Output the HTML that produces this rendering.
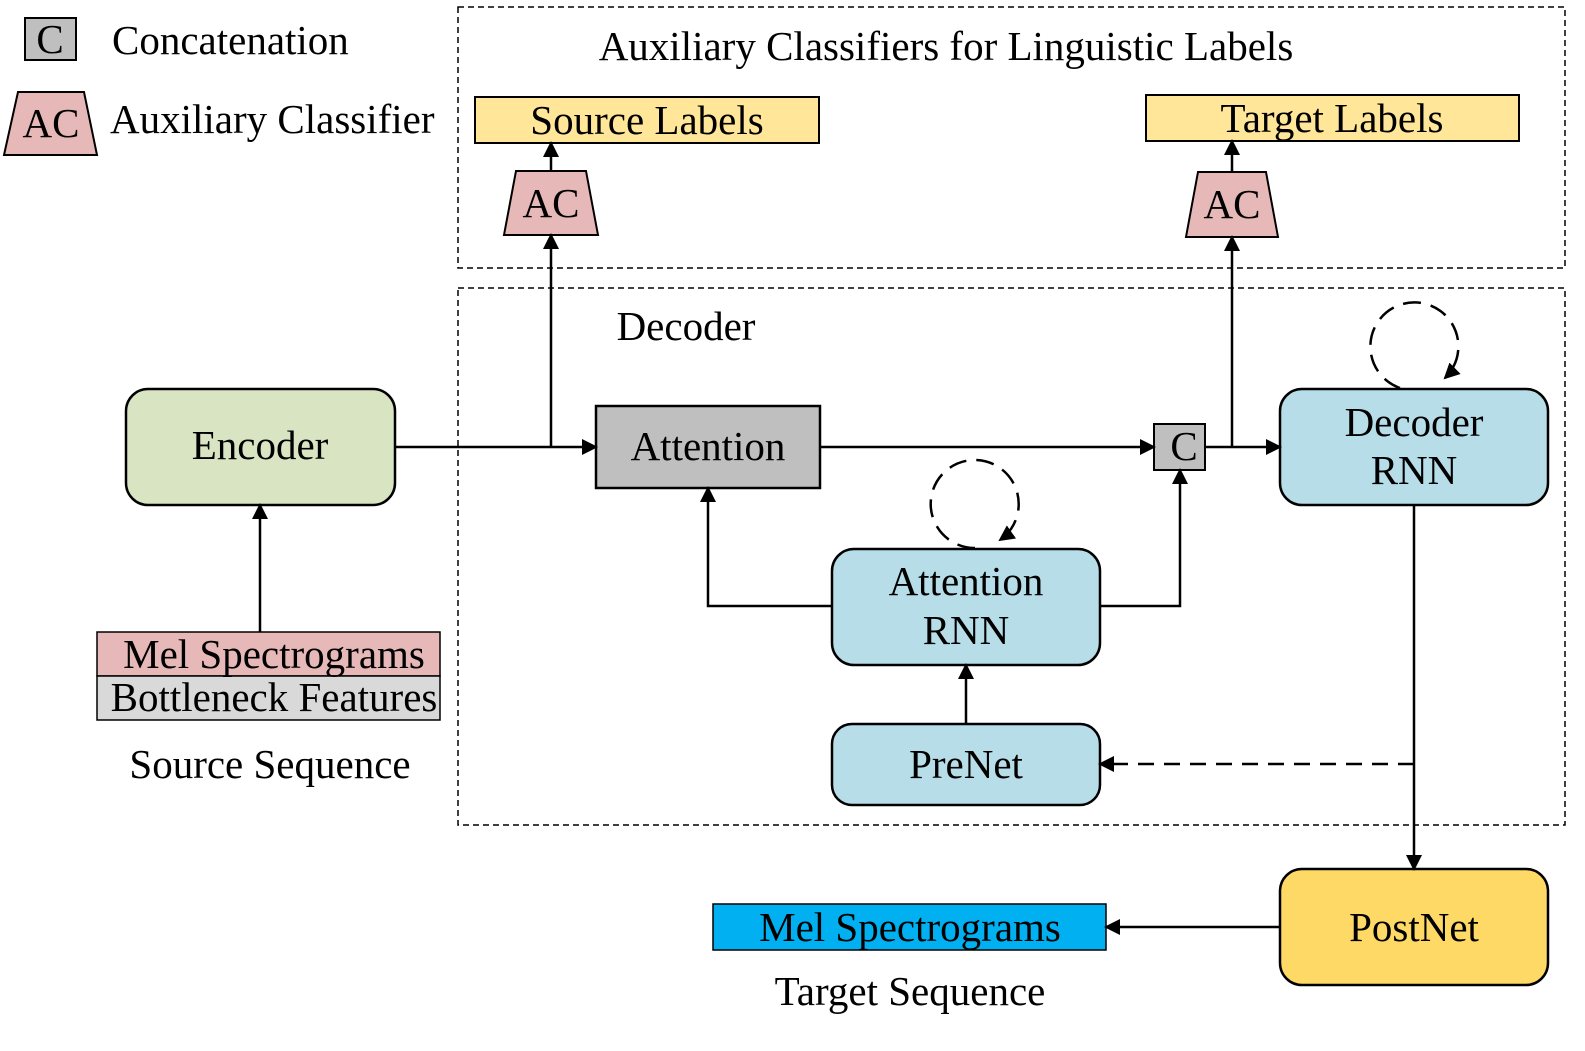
<!DOCTYPE html>
<html><head><meta charset="utf-8"><style>
html,body{margin:0;padding:0;background:#fff;}
svg text{font-family:"Liberation Serif",serif;font-size:41px;fill:#000;}
</style></head><body>
<svg width="1585" height="1046" viewBox="0 0 1585 1046" xmlns="http://www.w3.org/2000/svg">
<defs>
<marker id="b" markerWidth="16" markerHeight="16" refX="14" refY="8" orient="auto" markerUnits="userSpaceOnUse" viewBox="0 0 16 16">
<path d="M0,0 L16,8 L0,16 z" fill="#000"/></marker>
</defs>
<g stroke="#000" stroke-width="2" fill="none">
<rect x="458" y="7" width="1107" height="261" stroke-dasharray="6,4" stroke-width="1.5"/>
<rect x="458" y="288" width="1107" height="537" stroke-dasharray="6,4" stroke-width="1.5"/>
</g>
<rect x="25" y="18" width="51" height="42" fill="#bfbfbf" stroke="#000" stroke-width="2"/>
<text x="50" y="53" text-anchor="middle">C</text>
<text x="112" y="54">Concatenation</text>
<polygon points="4,155 97,155 84,92 18,92" fill="#e6b8b7" stroke="#000" stroke-width="2"/>
<text x="51" y="137" text-anchor="middle">AC</text>
<text x="110" y="133">Auxiliary Classifier</text>
<text x="946" y="60" text-anchor="middle">Auxiliary Classifiers for Linguistic Labels</text>
<text x="686" y="340" text-anchor="middle">Decoder</text>
<rect x="475" y="97" width="344" height="46" fill="#ffe699" stroke="#000" stroke-width="2"/>
<text x="647" y="134" text-anchor="middle">Source Labels</text>
<rect x="1146" y="95" width="373" height="46" fill="#ffe699" stroke="#000" stroke-width="2"/>
<text x="1332" y="132" text-anchor="middle">Target Labels</text>
<polygon points="504,235 598,235 586,171 516,171" fill="#e6b8b7" stroke="#000" stroke-width="2"/>
<text x="551" y="217" text-anchor="middle">AC</text>
<polygon points="1186,237 1278,237 1266,172 1198,172" fill="#e6b8b7" stroke="#000" stroke-width="2"/>
<text x="1232" y="218" text-anchor="middle">AC</text>
<rect x="126" y="389" width="269" height="116" rx="22" fill="#d9e5c2" stroke="#000" stroke-width="2.5"/>
<text x="260" y="459" text-anchor="middle">Encoder</text>
<rect x="596" y="406" width="224" height="82" fill="#bfbfbf" stroke="#000" stroke-width="2.5"/>
<text x="708" y="460" text-anchor="middle">Attention</text>
<rect x="1154" y="424" width="51" height="46" fill="#bfbfbf" stroke="#000" stroke-width="2"/>
<text x="1184" y="460" text-anchor="middle">C</text>
<rect x="1280" y="389" width="268" height="116" rx="22" fill="#b7dde8" stroke="#000" stroke-width="2.5"/>
<text x="1414" y="436" text-anchor="middle">Decoder</text>
<text x="1414" y="484" text-anchor="middle">RNN</text>
<rect x="832" y="549" width="268" height="116" rx="22" fill="#b7dde8" stroke="#000" stroke-width="2.5"/>
<text x="966" y="595" text-anchor="middle">Attention</text>
<text x="966" y="644" text-anchor="middle">RNN</text>
<rect x="832" y="724" width="268" height="81" rx="20" fill="#b7dde8" stroke="#000" stroke-width="2.5"/>
<text x="966" y="778" text-anchor="middle">PreNet</text>
<rect x="1280" y="869" width="268" height="116" rx="22" fill="#ffd966" stroke="#000" stroke-width="2.5"/>
<text x="1414" y="941" text-anchor="middle">PostNet</text>
<rect x="97" y="632" width="343" height="44" fill="#e6b8b7" stroke="#000" stroke-width="1.5"/>
<rect x="97" y="676" width="343" height="44" fill="#d9d9d9" stroke="#000" stroke-width="1.5"/>
<text x="274" y="668" text-anchor="middle">Mel Spectrograms</text>
<text x="274" y="711" text-anchor="middle">Bottleneck Features</text>
<text x="270" y="778" text-anchor="middle">Source Sequence</text>
<rect x="713" y="904" width="393" height="46" fill="#00b0f0" stroke="#000" stroke-width="1.5"/>
<text x="910" y="941" text-anchor="middle">Mel Spectrograms</text>
<text x="910" y="1005" text-anchor="middle">Target Sequence</text>
<g stroke="#000" stroke-width="2.5" fill="none">
<line x1="395" y1="447" x2="596" y2="447" marker-end="url(#b)"/>
<line x1="551" y1="447" x2="551" y2="235" marker-end="url(#b)"/>
<line x1="551" y1="171" x2="551" y2="143" marker-end="url(#b)"/>
<line x1="820" y1="447" x2="1154" y2="447" marker-end="url(#b)"/>
<line x1="1205" y1="447" x2="1280" y2="447" marker-end="url(#b)"/>
<line x1="1232" y1="447" x2="1232" y2="237" marker-end="url(#b)"/>
<line x1="1232" y1="172" x2="1232" y2="141" marker-end="url(#b)"/>
<polyline points="832,606 708,606 708,488" marker-end="url(#b)"/>
<polyline points="1100,606 1180,606 1180,470" marker-end="url(#b)"/>
<line x1="966" y1="724" x2="966" y2="665" marker-end="url(#b)"/>
<line x1="260" y1="632" x2="260" y2="505" marker-end="url(#b)"/>
<line x1="1414" y1="505" x2="1414" y2="869" marker-end="url(#b)"/>
<line x1="1414" y1="764" x2="1100" y2="764" stroke-dasharray="16,10" marker-end="url(#b)"/>
<line x1="1280" y1="927" x2="1106" y2="927" marker-end="url(#b)"/>
<path d="M1400,388 A44,44 0 1 1 1445,378" stroke-dasharray="18,10" marker-end="url(#b)"/>
<path d="M975,548 A44,44 0 1 1 1000,540" stroke-dasharray="18,10" marker-end="url(#b)"/>
</g>
</svg>
</body></html>
